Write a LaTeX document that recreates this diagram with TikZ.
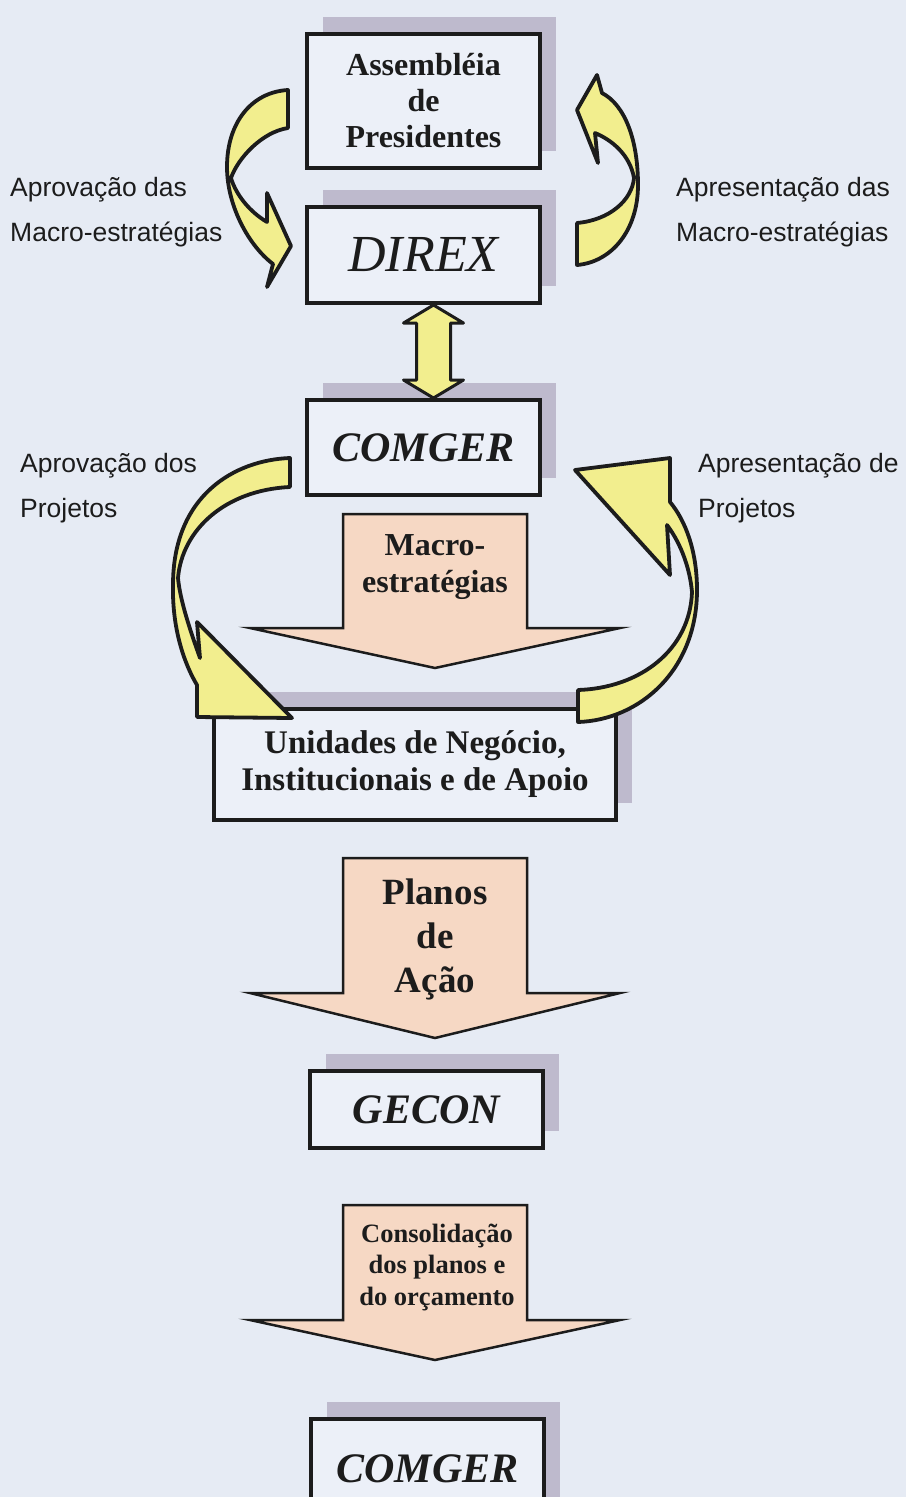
\documentclass[tikz,border=0pt]{standalone}
\usepackage{fontspec}
\setmainfont{Liberation Serif}
\setsansfont{Liberation Sans}
\usetikzlibrary{positioning,shadows,calc}
\definecolor{bgBlue}{RGB}{230,235,244}
\definecolor{boxFill}{RGB}{236,240,248}
\definecolor{shadowGray}{RGB}{190,186,205}
\definecolor{ribbonYellow}{RGB}{242,238,142}
\definecolor{blockPink}{RGB}{246,216,196}
\definecolor{inkBlack}{RGB}{28,28,28}
\tikzset{
  orgBox/.style    = {rectangle, draw=inkBlack, line width=4pt, fill=boxFill,
                      minimum width=233pt, align=center, text=inkBlack,
                      drop shadow={shadow xshift=16pt, shadow yshift=17pt,
                                   fill=shadowGray, opacity=1}},
  ribbon/.style    = {fill=ribbonYellow, draw=inkBlack, line width=3.8pt,
                      line join=round},
  blockDown/.style = {fill=blockPink, draw=inkBlack, line width=2.5pt},
  blockText/.style = {align=center, text=inkBlack, inner sep=0pt},
  sideLabel/.style = {align=left, anchor=west, inner sep=0pt, text=inkBlack,
                      font=\sffamily\fontsize{26.5}{45}\selectfont},
}

\begin{document}
\begin{tikzpicture}[x=1pt,y=-1pt]
  \fill[bgBlue] (0,0) rectangle (906,1497);
  \useasboundingbox (0,0) rectangle (906,1497);
  % boxes
  \node[orgBox, minimum height=134pt,
        font=\bfseries\fontsize{32}{36}\selectfont] (pres) at (423.5,101)
        {Assembléia\\de\\Presidentes};
  \node[orgBox, minimum height=96pt, below=35pt of pres,
        font=\itshape\fontsize{52}{56}\selectfont] (direx) {DIREX};
  \node[orgBox, minimum height=95pt, below=93pt of direx,
        font=\bfseries\itshape\fontsize{42}{46}\selectfont] (comger) {COMGER};
  \node[orgBox, minimum width=402pt, minimum height=111pt,
        font=\bfseries\fontsize{33}{37}\selectfont] (unid) at (415,764.5)
        {Unidades de Negócio,\\Institucionais e de Apoio};
  \node[orgBox, minimum height=77pt,
        font=\bfseries\itshape\fontsize{42}{46}\selectfont] (gecon) at (426.5,1109.5) {GECON};
  \node[orgBox, minimum height=100pt,
        font=\bfseries\itshape\fontsize{42}{46}\selectfont] (comgerB) at (427.5,1469) {COMGER};
  % pink block arrows
  \foreach \t/\b/\p in {514/628/668, 858/993/1038, 1205/1320/1360}{
    \draw[blockDown] (343,\t) -- (527,\t) -- (527,\b) -- (620,\b) -- (435,\p)
      -- (250,\b) -- (343,\b) -- cycle;}
  \node[blockText, font=\bfseries\fontsize{32}{37}\selectfont] (macro) at (435,567)
    {Macro-\\estratégias};
  \node[blockText, font=\bfseries\fontsize{37}{44}\selectfont] (planos) at (435,939)
    {Planos\\de\\Ação};
  \node[blockText, font=\bfseries\fontsize{26.5}{31.5}\selectfont] (consol) at (437,1267)
    {Consolidação\\dos planos e\\do orçamento};
  % DIREX <-> COMGER
  \draw[ribbon, line width=3pt] ($(direx.south)+(10,0)$) -- ++(30,18) -- ++(-13,0)
    -- ++(0,57) -- ++(13,0) -- ($(comger.north)+(10,0)$) -- ++(-30,-18)
    -- ++(13,0) -- ++(0,-57) -- ++(-13,0) -- cycle;
  % curved ribbons
  \draw[ribbon] (288,90) .. controls (252,92) and (227,122) .. (227,167)
    .. controls (227,205) and (248,245) .. (273,264) -- (267,287) -- (291,246)
    -- (267,193) -- (267,222) .. controls (250,212) and (236,195) .. (231,178)
    .. controls (238,158) and (262,132) .. (288,128) -- cycle;
  \draw[ribbon] (577,265) .. controls (612,262) and (638,230) .. (638,185)
    .. controls (638,140) and (625,105) .. (602,93) -- (597,75) -- (577,110)
    -- (598,163) -- (595,133) .. controls (612,140) and (630,155) .. (634,178)
    .. controls (632,200) and (610,220) .. (577,223) -- cycle;
  \draw[ribbon] (290,458) .. controls (235,460) and (173,495) .. (173,585)
    .. controls (172,630) and (185,665) .. (197,685) -- (197,717) -- (292,718)
    -- (197,622) -- (200,658) .. controls (190,630) and (180,600) .. (178,578)
    .. controls (182,530) and (225,490) .. (290,487) -- cycle;
  \draw[ribbon] (578,722) .. controls (640,720) and (697,670) .. (697,590)
    .. controls (697,550) and (685,520) .. (670,502) -- (670,458) -- (575,470)
    -- (670,575) -- (667,525) .. controls (682,545) and (690,570) .. (692,592)
    .. controls (690,650) and (640,688) .. (578,690) -- cycle;
  % side labels
  \node[sideLabel] (aprovMacro) at (10,212) {Aprovação das\\Macro-estratégias};
  \node[sideLabel] (apresMacro) at (676,212) {Apresentação das\\Macro-estratégias};
  \node[sideLabel] (aprovProj) at (20,488) {Aprovação dos\\Projetos};
  \node[sideLabel] (apresProj) at (698,488) {Apresentação de\\Projetos};
\end{tikzpicture}
\end{document}
